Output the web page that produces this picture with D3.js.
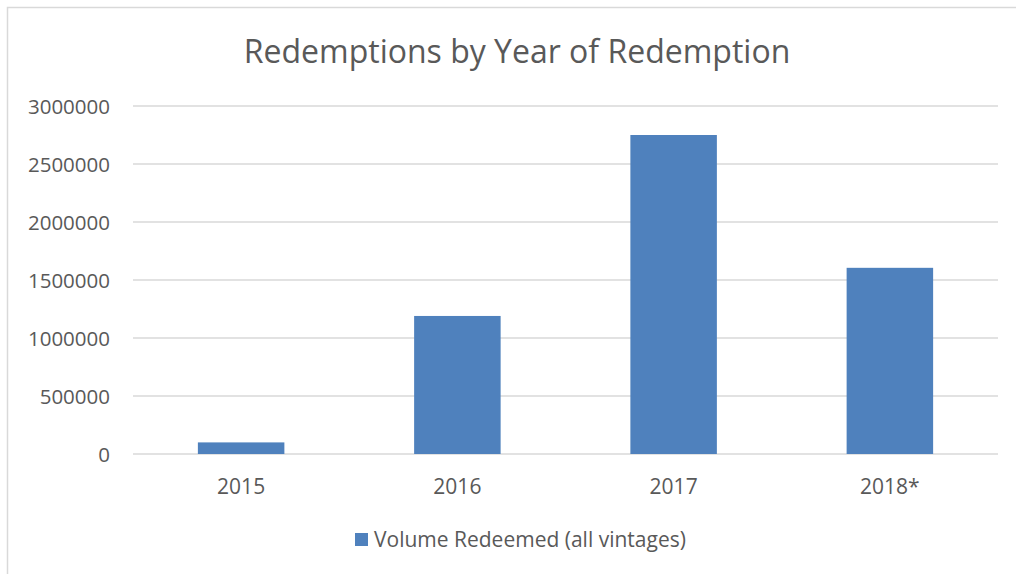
<!DOCTYPE html>
<html>
<head>
<meta charset="utf-8">
<script src="https://cdn.jsdelivr.net/npm/d3@7"></script>
<style>
  body { margin: 0; background: #fff; }
  text { font-family: "Open Sans", sans-serif; fill: #595959; }
</style>
</head>
<body>
<div id="chart"></div>
<script>
// data
var years = ["2015", "2016", "2017", "2018*"];
var volumes = [100000, 1190000, 2750000, 1605000];
var yTicks = [0, 500000, 1000000, 1500000, 2000000, 2500000, 3000000];
var seriesName = "Volume Redeemed (all vintages)";

var width = 1016, height = 574;
var margin = {top: 106, right: 18, bottom: 120, left: 133};

var svg = d3.select("#chart").append("svg")
            .attr("width", width)
            .attr("height", height);

// chart area border (cut off at right / bottom)
svg.append("rect")
   .attr("x", 7.5).attr("y", 7.5)
   .attr("width", width + 20).attr("height", height + 20)
   .attr("fill", "none")
   .attr("stroke", "#d9d9d9")
   .attr("stroke-width", 1.5);

var x = d3.scaleBand()
          .domain(years)
          .range([margin.left, width - margin.right])
          .paddingInner(0.6)
          .paddingOuter(0.3);

var y = d3.scaleLinear()
          .domain([0, 3000000])
          .range([454, margin.top]);

// title
svg.append("text")
   .attr("x", 517).attr("y", 52)
   .attr("dy", "0.35em")
   .attr("text-anchor", "middle")
   .style("font-size", "32px")
   .text("Redemptions by Year of Redemption");

// gridlines
svg.append("g")
   .selectAll("line")
   .data(yTicks)
   .enter()
   .append("line")
   .attr("x1", margin.left)
   .attr("x2", width - margin.right)
   .attr("y1", d => y(d))
   .attr("y2", d => y(d))
   .attr("stroke", "#d9d9d9")
   .attr("stroke-width", 1.5);

// y axis labels
var yAxis = d3.axisLeft(y).tickValues(yTicks).tickFormat(d3.format("d")).tickSize(0).tickPadding(0);
var gy = svg.append("g").attr("transform", "translate(110,0)").call(yAxis);
gy.select(".domain").remove();
gy.selectAll("text").style("font-size", "20.5px").attr("fill", "#595959").attr("dy", "0.35em");

// bars
svg.append("g")
   .selectAll("rect")
   .data(volumes)
   .enter()
   .append("rect")
   .attr("x", (d, i) => x(years[i]))
   .attr("y", d => y(d))
   .attr("width", x.bandwidth())
   .attr("height", d => y(0) - y(d))
   .attr("fill", "#4f81bd");

// x axis labels
var xAxis = d3.axisBottom(x).tickSize(0).tickPadding(0);
var gx = svg.append("g").attr("transform", "translate(0,487)").call(xAxis);
gx.select(".domain").remove();
gx.selectAll("text").style("font-size", "21px").attr("fill", "#595959").attr("dy", "0.35em");

// legend
var legend = svg.append("g").attr("transform", "translate(355,540)");
legend.append("rect")
      .attr("x", 0).attr("y", -7)
      .attr("width", 13).attr("height", 13)
      .attr("fill", "#4f81bd");
legend.append("text")
      .attr("x", 19).attr("y", 0)
      .attr("dy", "0.35em")
      .style("font-size", "21px")
      .text(seriesName);
</script>
</body>
</html>
